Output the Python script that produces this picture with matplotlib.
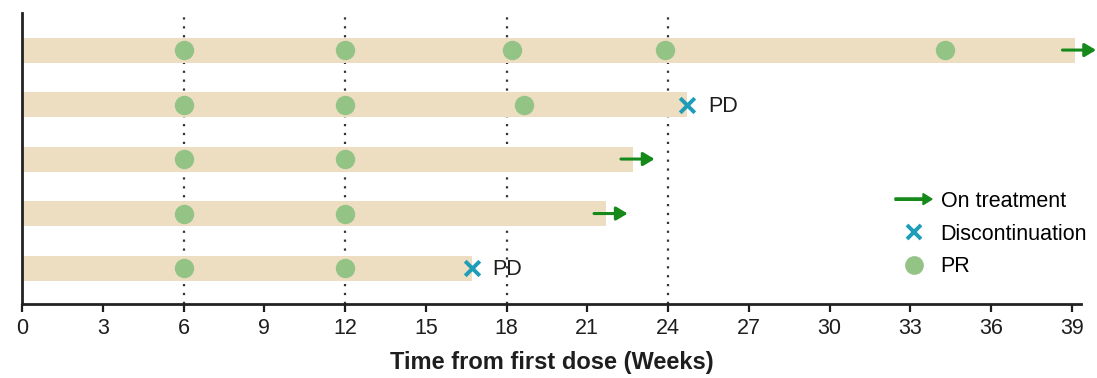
import matplotlib
matplotlib.use("Agg")
import matplotlib.pyplot as plt
from matplotlib.lines import Line2D
from matplotlib.patches import FancyArrow
from matplotlib.legend_handler import HandlerPatch

plt.rcParams['font.family'] = ['Liberation Sans', 'DejaVu Sans']

# Patients listed top to bottom
patients = [1, 2, 3, 4, 5]
duration = [39.1, 24.7, 22.7, 21.7, 16.7]          # weeks on study
pr_times = [[6, 12, 18.2, 23.9, 34.3],
            [6, 12, 18.65],
            [6, 12],
            [6, 12],
            [6, 12]]
ongoing = [True, False, True, True, False]          # still on treatment
disc_time = [None, 24.7, None, None, 16.7]          # discontinuation (PD)
disc_label = [None, "PD", None, None, "PD"]
assess_weeks = [6, 12, 18, 24]
xticks = list(range(0, 40, 3))

bar_color = "#EDDDC1"
pr_color = "#93C486"
x_color = "#1F9CB8"
arrow_color = "#15891A"
text_color = "#1E1E1E"

fig = plt.figure(figsize=(10.97, 3.78), dpi=100)
ax = fig.add_axes([22 / 1097, 74 / 378, (1081 - 22) / 1097, (304 - 13) / 378])

n = len(patients)
ypos = [n - i for i in range(n)]

for wk in assess_weeks:
    ax.axvline(wk, color="#333333", lw=1.6, ls=(0, (1, 3.0)), zorder=1)

ax.barh(ypos, duration, height=0.46, left=0, color=bar_color, zorder=2)

for y, times in zip(ypos, pr_times):
    ax.scatter(times, [y] * len(times), s=195, color=pr_color, zorder=3, linewidths=0)

arrow_len = 1.25
for y, d, on in zip(ypos, duration, ongoing):
    if on:
        start = d - 0.45
        ax.annotate("", xy=(start + arrow_len, y), xytext=(start, y),
                    arrowprops=dict(arrowstyle="-|>,head_length=0.42,head_width=0.25",
                                    color=arrow_color, lw=2.2,
                                    mutation_scale=16, shrinkA=0, shrinkB=0),
                    annotation_clip=False, zorder=4)

for y, t, lab in zip(ypos, disc_time, disc_label):
    if t is not None:
        ax.scatter([t], [y], marker="x", s=110, color=x_color, linewidths=2.8, zorder=4)
        ax.text(t + 0.78, y - 0.03, lab, fontsize=15.5, va="center", ha="left", color=text_color)

ax.set_xlim(0, 39.34)
ax.set_ylim(0.34, 5.68)
ax.set_xticks(xticks)
ax.tick_params(axis="x", labelsize=15.5, length=6, width=1.6, pad=4, colors=text_color)
ax.set_yticks([])
for side in ("top", "right"):
    ax.spines[side].set_visible(False)
for side in ("left", "bottom"):
    ax.spines[side].set_linewidth(2)
    ax.spines[side].set_color("#222222")
ax.set_xlabel("Time from first dose (Weeks)", fontsize=17, fontweight="bold", labelpad=9,
              color=text_color)


class ArrowHandler(HandlerPatch):
    def create_artists(self, legend, orig_handle, xdescent, ydescent, width, height, fontsize, trans):
        a = FancyArrow(-xdescent, height / 2 - ydescent, width, 0, width=1.7,
                       head_width=8, head_length=6.5, length_includes_head=True,
                       color=arrow_color, transform=trans)
        return [a]


arrow_handle = FancyArrow(0, 0, 1, 0, color=arrow_color)
handles = [arrow_handle,
           Line2D([], [], marker="x", ls="none", color=x_color, markersize=10, markeredgewidth=2.8),
           Line2D([], [], marker="o", ls="none", color=pr_color, markersize=13.5, markeredgewidth=0)]
labels = ["On treatment", "Discontinuation", "PR"]
ax.legend(handles, labels, handler_map={FancyArrow: ArrowHandler()},
          loc="center left", bbox_to_anchor=(895 / 1097, 1 - 234 / 378), bbox_transform=fig.transFigure,
          frameon=False, fontsize=15.5, handlelength=1.72, handletextpad=0.4, labelspacing=0.55,
          borderpad=0, borderaxespad=0)

fig.savefig("out.png", dpi=100)
